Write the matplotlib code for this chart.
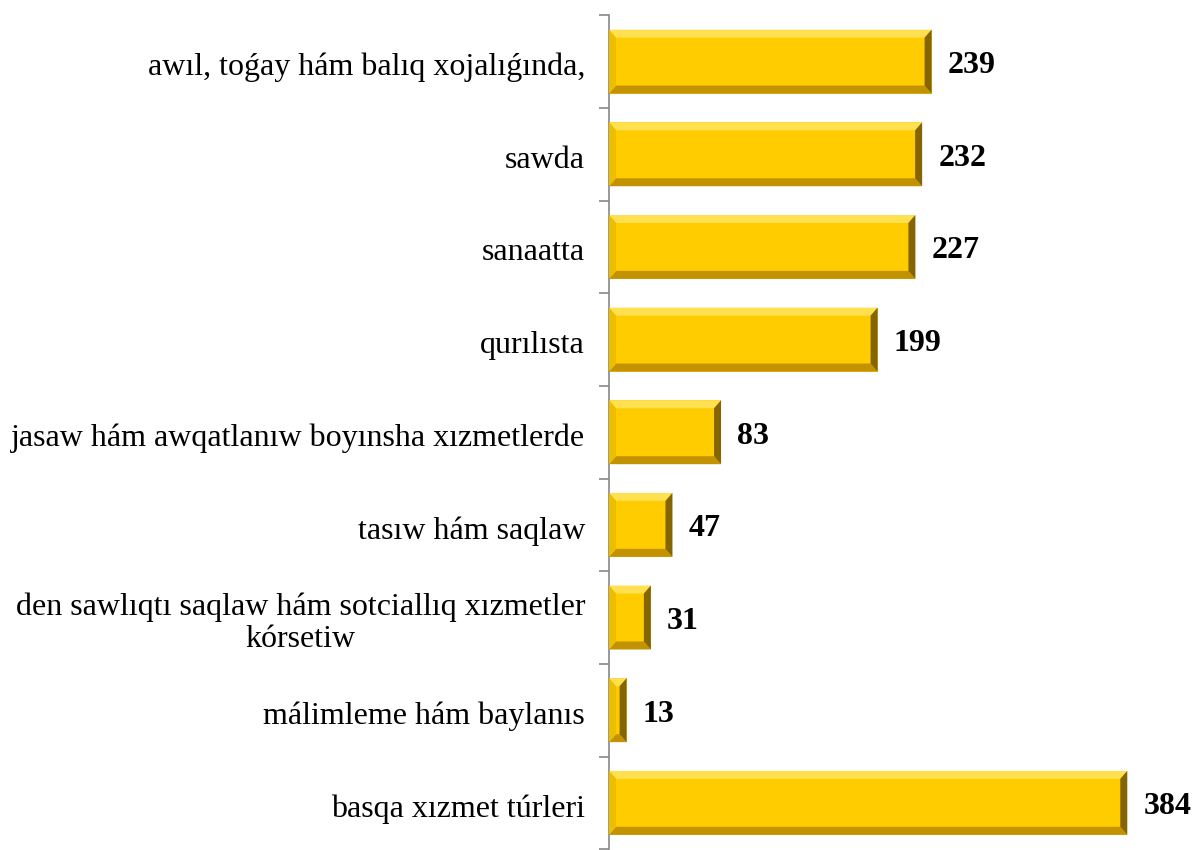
import matplotlib
matplotlib.use("Agg")
import matplotlib.pyplot as plt
import matplotlib.transforms as mtransforms
from matplotlib.patches import Polygon
import numpy as np

categories = [
    "awıl, toǵay hám balıq xojalıǵında,",
    "sawda",
    "sanaatta",
    "qurılısta",
    "jasaw hám awqatlanıw boyınsha xızmetlerde",
    "tasıw hám saqlaw",
    "den sawlıqtı saqlaw hám sotciallıq xızmetler\nkórsetiw",
    "málimleme hám baylanıs",
    "basqa xızmet túrleri",
]
values = [239, 232, 227, 199, 83, 47, 31, 13, 384]

plt.rcParams['font.family'] = ['Liberation Serif', 'DejaVu Serif']

fig = plt.figure(figsize=(11.97, 8.5), dpi=100)
ax = fig.add_axes([0.5088, 0.001, 0.451, 0.981])

n = len(categories)
ypos = np.arange(n)
height = 0.69
ax.set_xlim(0, 400)
ax.set_ylim(n - 0.5, -0.5)

main = "#FFCC00"
top_c = "#FFE050"
bot_c = "#C29200"
right_c = "#856500"
left_c = "#EDBD00"

fig.canvas.draw()
bbox = ax.get_window_extent()
px_x = 400 / bbox.width
px_y = n / bbox.height
bx = 7 * px_x
by = 8 * px_y

val_tr = mtransforms.offset_copy(ax.transData, fig=fig, x=0, y=-4, units="dots")
lab_tr = mtransforms.offset_copy(
    mtransforms.blended_transform_factory(ax.transAxes, ax.transData),
    fig=fig, x=-24, y=-6, units="dots")

for y, v, c in zip(ypos, values, categories):
    y0 = y - height / 2
    y1 = y + height / 2
    ax.barh(y, v, height=height, color=main, edgecolor="none", zorder=2)
    b = min(bx, v / 2.5)
    ax.add_patch(Polygon([[0, y0], [v, y0], [v - b, y0 + by], [b, y0 + by]],
                         closed=True, color=top_c, lw=0, zorder=3))
    ax.add_patch(Polygon([[0, y1], [v, y1], [v - b, y1 - by], [b, y1 - by]],
                         closed=True, color=bot_c, lw=0, zorder=3))
    ax.add_patch(Polygon([[v, y0], [v, y1], [v - b, y1 - by], [v - b, y0 + by]],
                         closed=True, color=right_c, lw=0, zorder=3))
    ax.add_patch(Polygon([[0, y0], [0, y1], [b, y1 - by], [b, y0 + by]],
                         closed=True, color=left_c, lw=0, zorder=3))
    ax.text(v + 16 * px_x, y, str(v), ha="left", va="center",
            fontsize=23, fontweight="bold", color="black", transform=val_tr)
    ax.text(0, y, c, ha="right", va="center", fontsize=23, color="black",
            multialignment="center", linespacing=1.15, transform=lab_tr,
            clip_on=False)

for s in ["top", "right", "bottom"]:
    ax.spines[s].set_visible(False)
ax.spines["left"].set_color("#888888")
ax.spines["left"].set_linewidth(1.2)
ax.set_xticks([])
ax.set_yticks(np.arange(-0.5, n, 1.0))
ax.set_yticklabels([])
ax.tick_params(axis="y", which="major", length=7, color="#888888", width=1.2)

fig.savefig("out.png", dpi=100)
